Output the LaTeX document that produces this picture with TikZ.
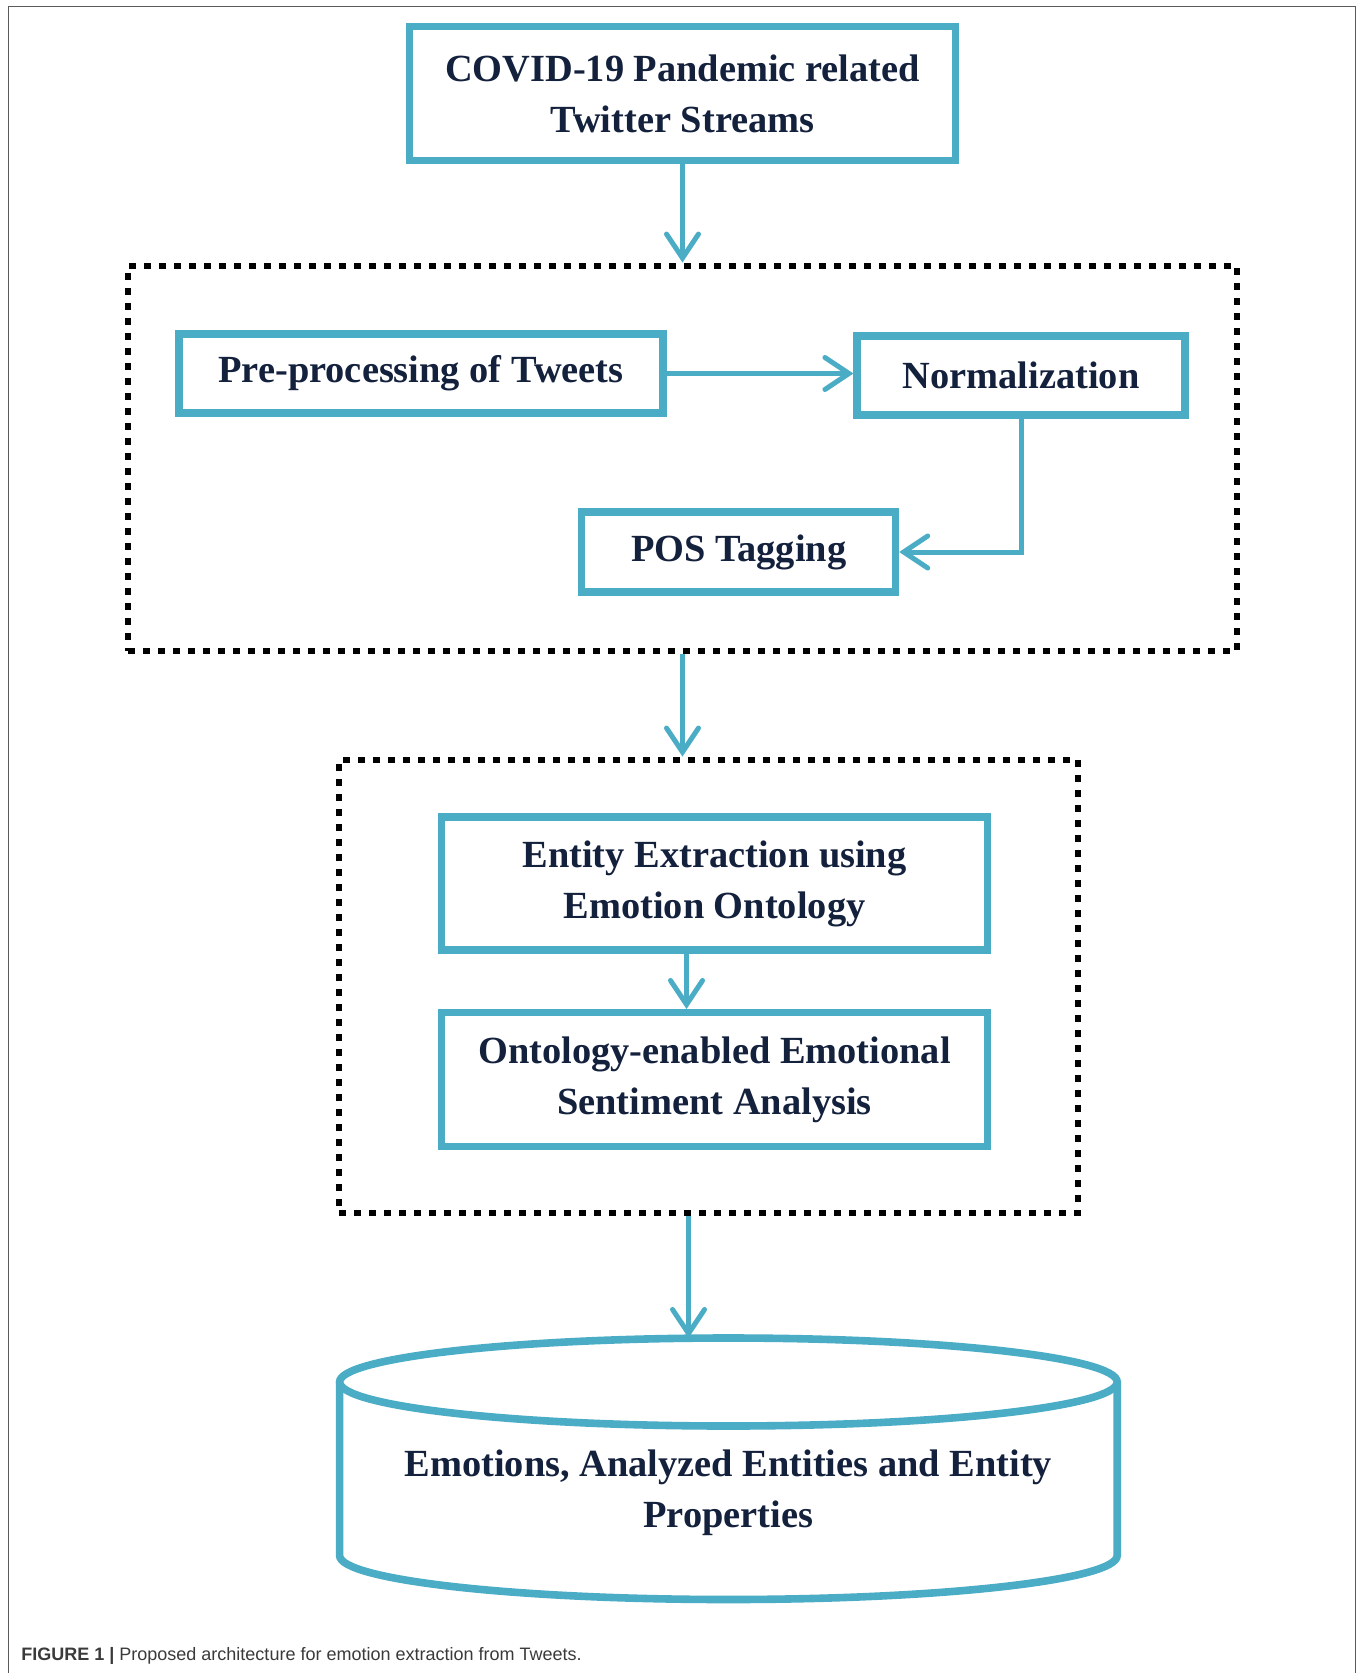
\documentclass[tikz,border=0pt]{standalone}
\usepackage{fontspec}
\setmainfont{Liberation Serif}
\newfontfamily\capfont{Liberation Sans}
\usetikzlibrary{arrows.meta, positioning}
\definecolor{aqua}{HTML}{4BACC6}
\definecolor{navy}{HTML}{14213D}
\definecolor{framegray}{HTML}{5A5A5A}
\definecolor{captext}{HTML}{3A3A3A}

\begin{document}
\begin{tikzpicture}[x=0.5pt, y=-0.5pt,
		box/.style={draw=aqua, line width=3.6pt, fill=white, text=navy, align=center, inner sep=0pt,
			font=\fontsize{19.2}{25.5}\selectfont\bfseries},
		stagebox/.style={draw=black, line width=3.4pt, dash pattern=on 3.3pt off 4.2pt, inner sep=0pt},
		flow/.style={draw=aqua, line width=2.5pt, -{Straight Barb[length=12pt,width=16pt,line cap=round]}}]
		
		% Page frame
		\useasboundingbox (0,0) rectangle (1363,1673);
		\draw[framegray, line width=0.8pt] (8.5,1673) -- (8.5,6.5) -- (1355.5,6.5) -- (1355.5,1673);
		
		% Input
		\node[box, minimum width=273pt, minimum height=67pt] (stream) at (682.5,93.4) {COVID-19 Pandemic related\\Twitter Streams};
		
		% Stage 1: cleaning
		\node[stagebox, minimum width=554.5pt, minimum height=192.5pt] (stageA) at (682.5,458.5) {};
		\node[box, minimum width=242pt, minimum height=39.5pt] (prep) at (421,373.5) {Pre-processing of Tweets};
		\node[box, minimum width=164pt, minimum height=39.5pt] (norm) at (1021,375.5) {Normalization};
		\node[box, minimum width=157pt, minimum height=40pt] (pos) at (738.6,552) {POS Tagging};
		
		% Stage 2: ontology
		\node[stagebox, minimum width=369.5pt, minimum height=226.5pt] (stageB) at (708.5,986.5) {};
		\node[box, minimum width=273pt, minimum height=66.5pt] (entity) at (714.5,883.5) {Entity Extraction using\\Emotion Ontology};
		\node[box, minimum width=273pt, minimum height=67pt] (sent) at (714.5,1079.6) {Ontology-enabled Emotional\\Sentiment Analysis};
		
		% Output store
		\coordinate (dbtop) at (728.4,1338);
		\draw[aqua, line width=3.8pt, fill=white] (339.6,1382) -- (339.6,1555.5)
			arc[start angle=180, end angle=360, x radius=194.4pt, y radius=22pt] -- (1117.2,1382);
		\draw[aqua, line width=3.8pt] (728.4,1382) ellipse [x radius=194.4pt, y radius=22pt];
		\node[text=navy, align=center, font=\fontsize{19.2}{25.5}\selectfont\bfseries] (store) at (728.4,1492.5) {Emotions, Analyzed Entities and Entity\\Properties};
		
		% Connectors
		\draw[flow] (stream) -- (stream |- stageA.north);
		\draw[flow] (prep.east) -- (prep.east -| norm.west);
		\draw[flow] (norm) |- (pos);
		\draw[flow] (stageA) -- (stageA.south |- stageB.north);
		\draw[flow] ([xshift=-14pt]entity.south) -- ([xshift=-14pt]sent.north);
		\draw[flow] ([xshift=-10pt]stageB.south) -- ([xshift=-10pt]stageB.south |- dbtop);
		
		% Caption
		\node[anchor=base west, inner sep=0pt, text=captext, font=\capfont\fontsize{9}{11}\selectfont] (cap) at (21,1660)
			{\textbf{FIGURE 1 |} Proposed architecture for emotion extraction from Tweets.};
	\end{tikzpicture}
\end{document}
